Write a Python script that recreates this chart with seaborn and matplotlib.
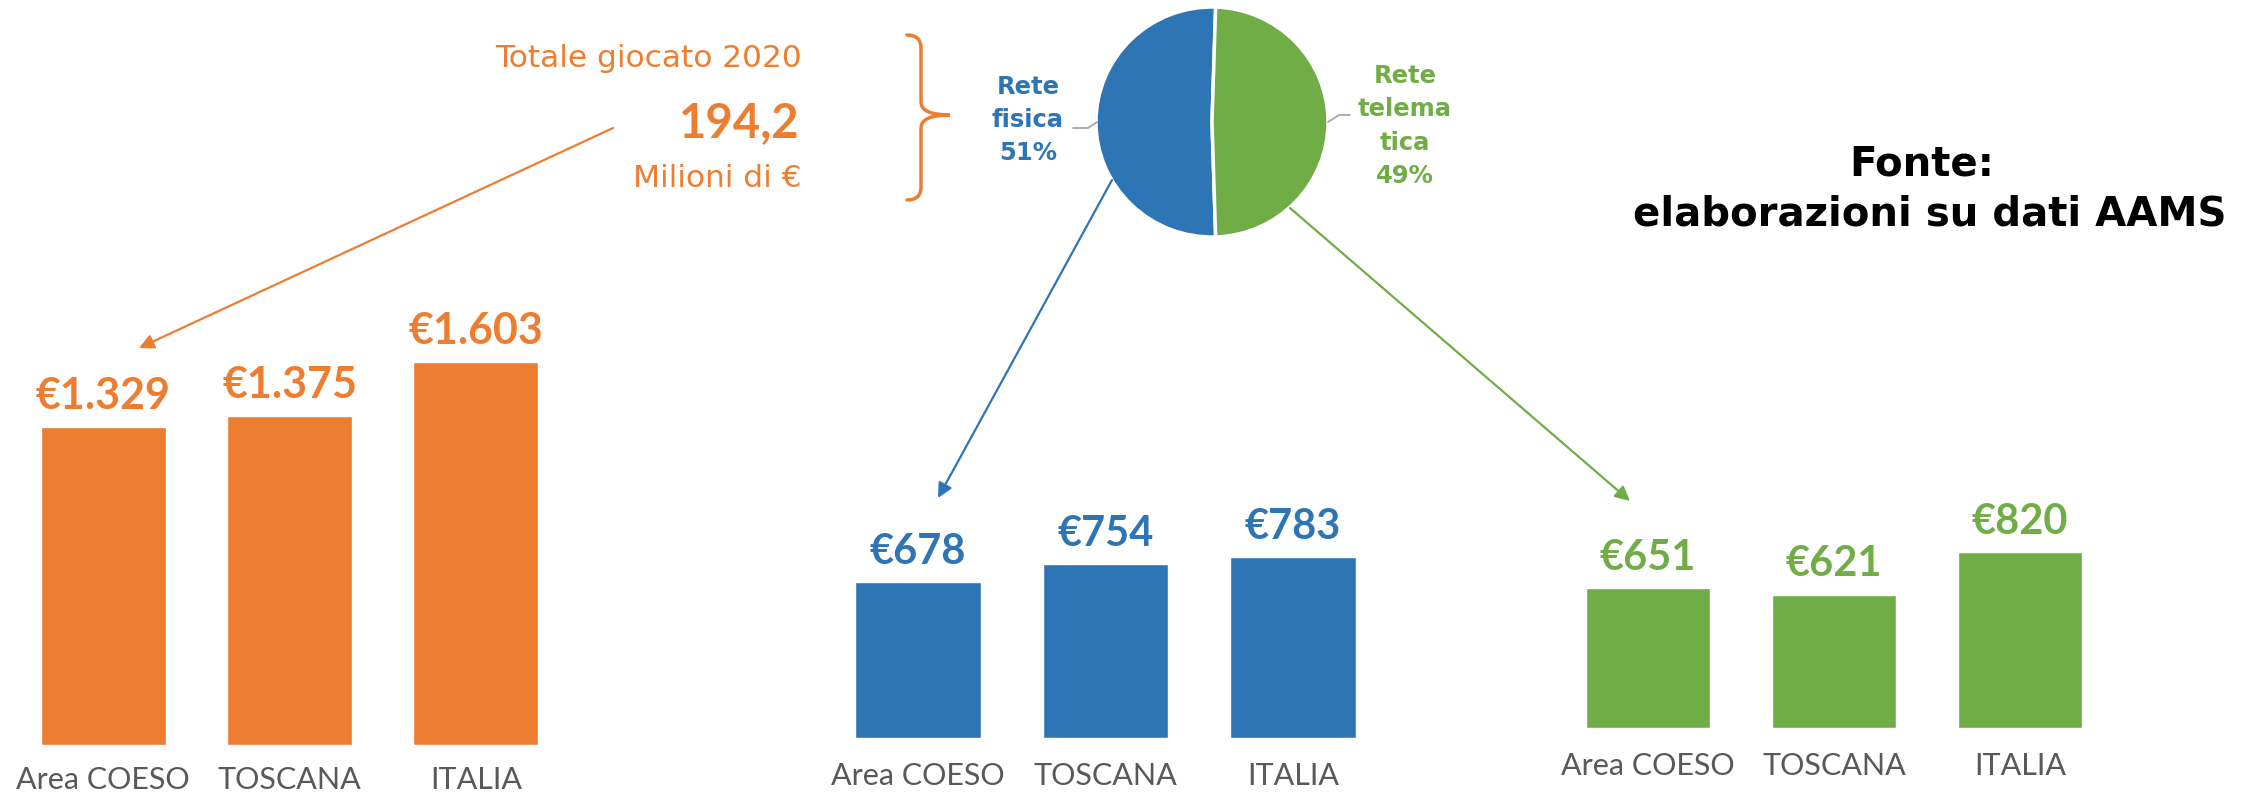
import matplotlib
matplotlib.use("Agg")
import matplotlib.pyplot as plt
import seaborn as sns
from matplotlib.path import Path
from matplotlib.patches import PathPatch

# data
categories = ["Area COESO", "TOSCANA", "ITALIA"]
totale_values = [1329, 1375, 1603]
fisica_values = [678, 754, 783]
telematica_values = [651, 621, 820]
pie_shares = [51, 49]
pie_labels = ["Rete\nfisica\n51%", "Rete\ntelema\ntica\n49%"]

ORANGE = "#ED7D31"
BLUE = "#2E75B6"
GREEN = "#70AD47"
GREY = "#595959"

W, H = 2246, 798

sns.set_theme(style="white")
plt.rcParams["font.family"] = ["Lato", "DejaVu Sans"]
WIDE = ["DejaVu Sans"]

fig = plt.figure(figsize=(W / 100, H / 100), dpi=100)


def box(left, right, bottom, height):
    # pixel box (origin top-left) -> figure fraction rect
    return [left / W, 1 - bottom / H, (right - left) / W, height / H]


def euro(v):
    return "€" + f"{v:,}".replace(",", ".")


def bar_panel(left, right, bottom, scale, ymax, values, color, tick_pad, size):
    ax = fig.add_axes(box(left, right, bottom, ymax * scale))
    sns.barplot(x=categories, y=values, color=color, saturation=1,
                width=0.67, ax=ax)
    ax.set_xlim(-0.5, 2.5)
    ax.set_ylim(0, ymax)
    ax.bar_label(ax.containers[0], labels=[euro(v) for v in values],
                 padding=8, color=color, fontsize=size, fontweight="bold")
    ax.set_yticks([])
    ax.set_xlabel("")
    ax.set_ylabel("")
    ax.tick_params(axis="x", length=0, pad=tick_pad, labelsize=22,
                   labelcolor=GREY)
    sns.despine(ax=ax, left=True, bottom=True)
    ax.patch.set_alpha(0)
    return ax


bar_panel(10, 569, 745, 0.239, 1800, totale_values, ORANGE, 15, 31)
bar_panel(824, 1387, 738, 0.2306, 1000, fisica_values, BLUE, 17, 30)
bar_panel(1555, 2113, 728, 0.2149, 1000, telematica_values, GREEN, 17, 30)

# pie
cx, cy, rx, ry = 1212, 122, 116, 115
pax = fig.add_axes([(cx - rx) / W, 1 - (cy + ry) / H, 2 * rx / W, 2 * ry / H])
pax.pie(pie_shares, colors=[BLUE, GREEN], startangle=88.2, counterclock=True,
        wedgeprops=dict(edgecolor="white", linewidth=2.5))
pax.set_aspect("auto")
pax.set_xlim(-1, 1)
pax.set_ylim(-1, 1)
pax.axis("off")

# overlay for texts, brace and arrows (pixel coordinates)
deco = fig.add_axes([0, 0, 1, 1])
deco.set_xlim(0, W)
deco.set_ylim(H, 0)
deco.axis("off")

deco.text(802, 67, "Totale giocato 2020", ha="right", va="baseline",
          color=ORANGE, fontsize=22.5, family=WIDE)
deco.text(800, 137, "194,2", ha="right", va="baseline", color=ORANGE,
          fontsize=34, fontweight="bold")
deco.text(802, 187, "Milioni di €", ha="right", va="baseline", color=ORANGE,
          fontsize=22.5, family=WIDE)

deco.text(1028, 120, pie_labels[0], ha="center", va="center", color=BLUE,
          fontsize=17.5, fontweight="bold", linespacing=1.5, family=WIDE)
deco.text(1405, 126, pie_labels[1], ha="center", va="center", color=GREEN,
          fontsize=17.5, fontweight="bold", linespacing=1.5, family=WIDE)
deco.plot([1073, 1088, 1097], [128, 128, 122], color="#A6A6A6", lw=1.3)
deco.plot([1328, 1339, 1350], [122, 115, 115], color="#A6A6A6", lw=1.3)

deco.text(1922, 175, "Fonte:", ha="center", va="baseline", color="black",
          fontsize=29, fontweight="bold", family=WIDE)
deco.text(1930, 225, "elaborazioni su dati AAMS", ha="center", va="baseline",
          color="black", fontsize=29, fontweight="bold", family=WIDE)

# curly brace
verts = [(907, 35), (921, 35), (921, 48), (921, 102), (921, 115), (950, 115),
         (921, 115), (921, 128), (921, 187), (921, 200), (907, 200)]
codes = [Path.MOVETO, Path.CURVE3, Path.CURVE3, Path.LINETO, Path.CURVE3,
         Path.CURVE3, Path.CURVE3, Path.CURVE3, Path.LINETO, Path.CURVE3,
         Path.CURVE3]
deco.add_patch(PathPatch(Path(verts, codes), fill=False, edgecolor=ORANGE,
                         lw=2.5, capstyle="round"))

# arrows
for start, end, col in [((613, 128), (139, 348), ORANGE),
                        ((1112, 180), (938, 498), BLUE),
                        ((1290, 208), (1630, 501), GREEN)]:
    deco.annotate("", xy=end, xytext=start,
                  arrowprops=dict(arrowstyle="-|>", color=col, lw=1.6,
                                  mutation_scale=22, shrinkA=0, shrinkB=0))

fig.savefig("out.png", dpi=100)
